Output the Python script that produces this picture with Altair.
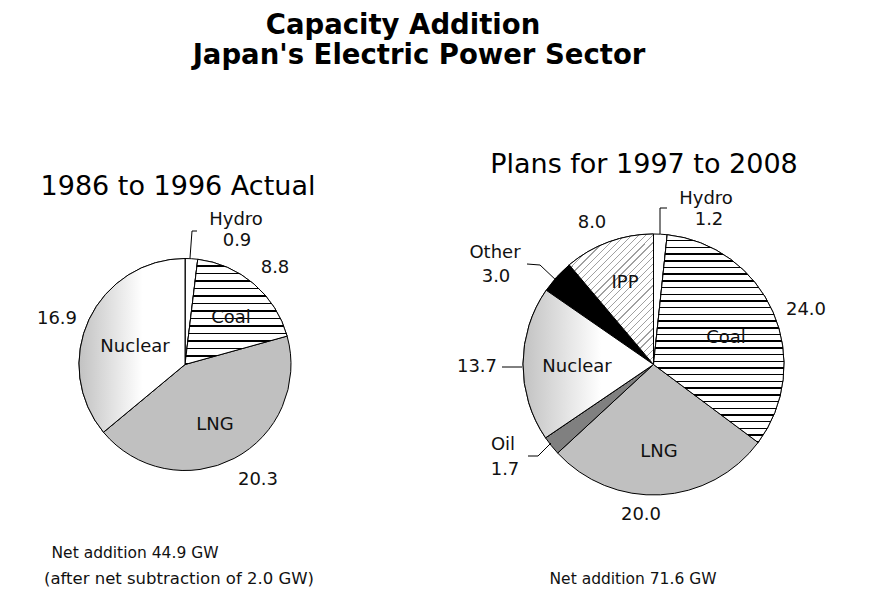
import altair as alt
import pandas as pd

# ---------------- data ----------------
title_lines = ["Capacity Addition", "Japan's Electric Power Sector"]
left_title = "1986 to 1996 Actual"
right_title = "Plans for 1997 to 2008"

left_sources = ["Hydro", "Coal", "LNG", "Nuclear"]
left_values = [0.9, 8.8, 20.3, 16.9]

right_sources = ["Hydro", "Coal", "LNG", "Oil", "Nuclear", "Other", "IPP"]
right_values = [1.2, 24.0, 20.0, 1.7, 13.7, 3.0, 8.0]

left_notes = ["Net addition 44.9 GW", "(after net subtraction of 2.0 GW)"]
right_notes = ["Net addition 71.6 GW"]

# ---------------- styles ----------------
M = 8
W, H = 888 - 2 * M, 598 - 2 * M
FONT = "DejaVu Sans"

fill_domain = ["Hydro", "Coal", "LNG", "Nuclear", "Oil", "Other", "IPP"]
fill_range = ["#ffffff", "#ffffff", "#c0c0c0", "#ffffff", "#808080", "#000000", "#ffffff"]


def stripes(n, frac, bg, fg, x2=0.0, y2=1.0):
    stops = []
    for k in range(n):
        a = k / n
        b = (k + 1) / n
        m = b - frac / n
        stops += [
            {"offset": round(a, 5), "color": bg},
            {"offset": round(m, 5), "color": bg},
            {"offset": round(m, 5), "color": fg},
            {"offset": round(b, 5), "color": fg},
        ]
    return {"gradient": "linear", "x1": 0, "y1": 0, "x2": x2, "y2": y2, "stops": stops}


nuclear_grad = {
    "gradient": "linear", "x1": 0, "y1": 0, "x2": 1, "y2": 0,
    "stops": [
        {"offset": 0, "color": "#c2c2c2"},
        {"offset": 0.6, "color": "#ffffff"},
        {"offset": 1, "color": "#ffffff"},
    ],
}

dummy = pd.DataFrame({"a": [0]})


def pie_layers(sources, values, cx, cy, r, overlays):
    df = pd.DataFrame({"source": sources, "value": values,
                       "order": list(range(len(sources)))})
    base = (
        alt.Chart(df)
        .transform_joinaggregate(total="sum(value)")
        .transform_window(cum="sum(value)", sort=[alt.SortField("order")], frame=[None, 0])
        .transform_calculate(t0="(datum.cum - datum.value) / datum.total",
                             t1="datum.cum / datum.total")
    )
    enc = dict(
        theta=alt.Theta("t0:Q", scale=alt.Scale(domain=[0, 1])),
        theta2=alt.Theta2("t1"),
        x=alt.value(cx - M),
        y=alt.value(cy - M),
    )
    layers = [
        base.mark_arc(outerRadius=r, stroke="black", strokeWidth=1).encode(
            fill=alt.Fill("source:N",
                          scale=alt.Scale(domain=fill_domain, range=fill_range),
                          legend=None),
            **enc,
        )
    ]
    for src, grad in overlays:
        layers.append(
            base.transform_filter(alt.datum.source == src)
            .mark_arc(outerRadius=r, fill=grad, stroke="black", strokeWidth=1)
            .encode(**enc)
        )
    return layers


def txt(s, x, y, size=18, bold=False, color="#111111"):
    return alt.Chart(dummy).mark_text(
        text=s, font=FONT, fontSize=size, fontWeight="bold" if bold else "normal",
        align="center", baseline="alphabetic", color=color,
    ).encode(x=alt.value(x - M), y=alt.value(y - M))


def seg(x1, y1, x2, y2):
    return alt.Chart(dummy).mark_rule(color="black", strokeWidth=1).encode(
        x=alt.value(x1 - M), y=alt.value(y1 - M),
        x2=alt.value(x2 - M), y2=alt.value(y2 - M),
    )


def fmt(v):
    return f"{v:.1f}"


L = dict(zip(left_sources, left_values))
R = dict(zip(right_sources, right_values))

layers = []
# pies
layers += pie_layers(left_sources, left_values, 185, 364.5, 106, [
    ("Coal", stripes(14, 0.2, "#ffffff", "#000000")),
    ("Nuclear", nuclear_grad),
])
layers += pie_layers(right_sources, right_values, 653.5, 364.5, 130.5, [
    ("Coal", stripes(31, 0.22, "#ffffff", "#000000")),
    ("Nuclear", nuclear_grad),
    ("IPP", stripes(30, 0.17, "#ffffff", "#a0a0a0", x2=0.75, y2=1.16)),
])

# leader lines
layers += [
    seg(192, 231, 197, 231), seg(192, 231, 190, 258),
    seg(660, 208, 667, 208), seg(660, 208, 660, 234),
    seg(527, 264, 540, 265), seg(540, 265, 558, 282),
    seg(528, 456, 538, 456), seg(538, 456, 551, 443),
    seg(502, 367, 522, 367),
]

# titles
layers += [
    txt(title_lines[0], 403, 34, size=27.5, bold=True, color="#000000"),
    txt(title_lines[1], 419, 64, size=27.5, bold=True, color="#000000"),
    txt(left_title, 178, 195, size=27, color="#000000"),
    txt(right_title, 644, 173, size=27, color="#000000"),
]

# left pie labels
layers += [
    txt("Hydro", 236, 225), txt(fmt(L["Hydro"]), 237, 246),
    txt(fmt(L["Coal"]), 275, 273), txt("Coal", 231, 323),
    txt("Nuclear", 135, 352), txt(fmt(L["Nuclear"]), 57, 324),
    txt("LNG", 215, 430), txt(fmt(L["LNG"]), 258, 485),
]

# right pie labels
layers += [
    txt("Hydro", 706, 204), txt(fmt(R["Hydro"]), 709, 225),
    txt(fmt(R["IPP"]), 592, 228), txt("IPP", 625, 288),
    txt("Other", 495, 258), txt(fmt(R["Other"]), 496, 282),
    txt(fmt(R["Coal"]), 806, 315), txt("Coal", 726, 343),
    txt("Nuclear", 577, 372), txt(fmt(R["Nuclear"]), 477, 372),
    txt("LNG", 659, 457), txt(fmt(R["LNG"]), 641, 520),
    txt("Oil", 503, 450), txt(fmt(R["Oil"]), 505, 475),
]

# notes
layers += [
    txt(left_notes[0], 135, 558, size=15.5),
    txt(left_notes[1], 179, 584, size=16.5),
    txt(right_notes[0], 633, 584, size=15.5),
]

chart = (
    alt.layer(*layers)
    .properties(width=W, height=H, padding=0, autosize="none", background="white")
    .configure_view(stroke=None)
)

chart.save("out.html", embed_options={"renderer": "svg", "actions": False})
